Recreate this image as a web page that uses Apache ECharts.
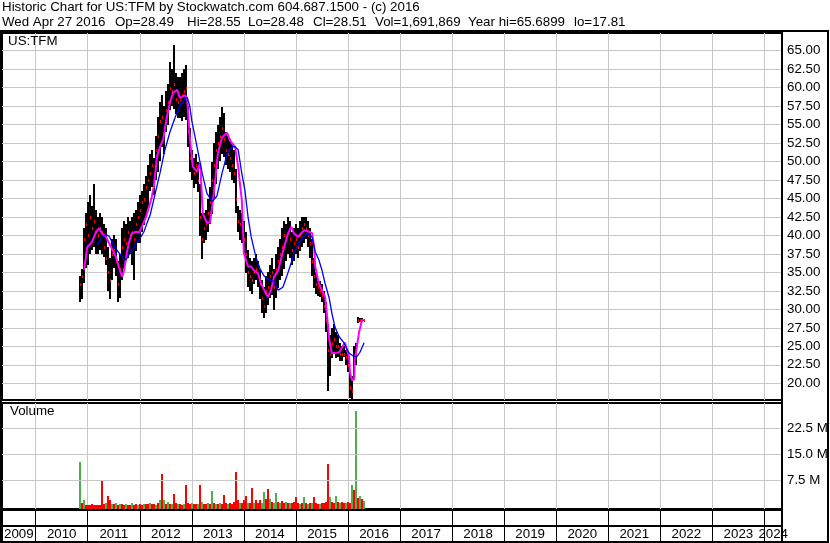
<!DOCTYPE html>
<html><head><meta charset="utf-8">
<script src="https://cdn.jsdelivr.net/npm/echarts@6/dist/echarts.min.js"></script>
<style>html,body{margin:0;padding:0;background:#fff}#c{width:830px;height:543px}</style>
</head><body><div id="c"></div>
<script>
// ---------- text ----------
const titleLine1 = "Historic Chart for US:TFM by Stockwatch.com 604.687.1500 - (c) 2016";
const titleLine2Fields = ["Wed Apr 27 2016", "Op=28.49", "Hi=28.55", "Lo=28.48", "Cl=28.51", "Vol=1,691,869", "Year hi=65.6899", "lo=17.81"];
const titleLine2X = [2, 115, 187, 248, 313, 375, 468, 574];
const priceLabel = "US:TFM";
const volumeLabel = "Volume";
const yearLabels = ["2009","2010","2011","2012","2013","2014","2015","2016","2017","2018","2019","2020","2021","2022","2023","2024"];
const volTickValues = [7.5e6, 15e6, 22.5e6];
const volTickLabels = ["7.5 M", "15.0 M", "22.5 M"];

// ---------- price bars (every two weeks, from Nov 2010) ----------
const startYear = 2010.85;
const stepYears = 1 / 26;
const priceLow = [31.0,31.5,33.5,35.5,36.0,37.5,38.0,38.5,37.5,37.5,
 38.0,37.5,37.0,36.0,32.5,31.5,34.0,35.5,34.5,31.0,
 31.5,34.0,35.5,36.5,37.0,37.5,36.0,34.0,38.0,39.0,
 39.0,40.5,41.5,42.5,43.5,46.0,46.5,45.5,47.5,48.5,
 50.0,52.0,51.0,54.0,55.0,57.0,57.5,57.0,56.5,56.0,
 56.0,55.5,56.0,55.5,52.0,48.5,47.5,46.5,47.0,46.0,
 40.0,36.8,39.0,39.5,40.5,41.5,43.0,45.0,47.0,49.0,
 50.0,51.0,50.5,49.5,49.0,48.5,47.5,47.0,43.0,40.5,
 39.5,39.0,37.5,35.0,33.0,32.5,32.0,33.5,34.0,33.0,
 31.5,29.5,28.8,29.5,30.5,31.5,32.0,30.0,31.5,33.0,
 34.0,34.5,35.5,36.5,37.5,37.0,36.0,36.5,37.5,37.0,
 38.0,38.5,39.0,39.5,38.5,37.0,34.5,33.0,32.0,31.8,
 31.7,31.0,29.5,27.0,19.0,21.0,23.5,24.0,23.5,23.5,
 23.0,23.0,23.5,22.5,21.5,18.0,17.8,20.5,22.5,28.2,
 28.3,28.4,28.45];
const priceHigh = [34.5,35.5,41.0,43.0,44.5,45.5,44.0,47.0,43.5,42.5,
 43.0,42.5,41.5,41.0,38.5,37.0,39.5,40.0,39.5,36.5,
 37.5,41.0,42.0,41.5,42.5,42.0,42.5,43.0,43.5,44.5,
 45.5,46.0,47.0,48.0,49.5,51.0,51.5,50.5,53.5,56.0,
 58.0,59.0,57.5,59.5,60.5,63.5,62.5,65.7,62.0,61.5,
 61.5,62.0,62.5,63.0,57.5,54.5,51.5,50.5,51.0,50.0,
 47.0,43.0,43.0,43.5,45.0,46.5,50.0,52.5,54.0,55.0,
 56.0,57.4,56.5,54.0,53.5,53.0,52.5,51.5,49.0,44.0,
 43.5,43.0,42.0,40.5,38.0,37.0,36.5,37.0,37.5,36.5,
 35.5,34.0,33.0,34.5,35.0,36.0,37.0,35.5,37.5,38.5,
 39.5,41.0,42.0,41.5,42.5,42.0,40.5,41.0,41.5,41.0,
 42.0,42.5,42.5,42.5,42.0,41.0,39.5,37.0,35.0,34.0,
 33.8,33.5,32.5,31.0,28.0,26.5,27.5,28.0,27.0,26.5,
 25.5,25.0,25.0,24.5,24.0,21.5,21.0,25.0,25.5,29.0,
 28.9,28.8,28.6];
const priceClose = [33.5,34.5,39.5,41.5,40.0,42.5,41.0,42.0,40.5,40.0,
 41.0,40.5,38.5,37.0,35.0,34.0,37.5,38.0,36.5,33.5,
 35.5,38.5,39.5,39.0,40.5,40.0,40.5,39.5,41.5,42.5,
 43.5,44.5,45.0,46.5,47.5,48.5,49.5,48.0,51.5,53.5,
 55.5,56.0,54.5,57.0,58.0,60.0,59.5,60.5,58.5,58.0,
 58.5,59.0,59.5,60.0,54.0,50.5,49.5,48.5,49.5,47.5,
 42.5,39.5,41.0,41.5,43.0,44.5,47.5,49.5,51.5,52.5,
 53.5,54.5,53.0,51.5,51.0,50.5,49.5,48.5,45.0,42.0,
 41.5,40.5,39.5,37.5,35.0,34.5,34.0,35.0,35.5,34.5,
 33.5,31.5,30.5,32.5,33.0,34.5,35.0,33.0,35.5,36.5,
 37.5,38.5,40.0,39.5,40.5,39.5,38.0,39.0,39.5,38.5,
 40.0,41.0,41.5,41.0,40.0,39.0,36.5,34.5,33.5,33.0,
 32.5,32.0,30.5,28.5,24.5,24.0,25.5,26.0,25.0,25.0,
 24.0,24.0,24.0,23.5,22.5,19.5,19.0,23.5,24.0,28.5,
 28.5,28.5,28.51];
// volume in millions, and direction (g = up, r = down)
const volumeM = [12.8,0.8,1.7,0.4,0.3,0.4,0.5,0.3,0.4,0.3,
 0.4,7.2,0.5,0.8,2.8,1.7,0.6,0.5,0.7,0.4,
 0.6,0.5,0.4,0.5,0.4,0.3,0.9,0.4,0.5,0.4,
 0.5,0.4,0.6,0.5,0.6,0.8,0.5,0.6,0.4,0.7,
 1.7,9.2,1.6,0.6,1.1,0.5,0.6,3.4,0.8,0.6,
 0.5,0.4,0.5,6.0,0.7,0.5,0.8,0.6,0.5,0.6,
 6.0,1.2,0.6,0.5,0.7,0.6,4.3,0.8,0.6,0.5,
 0.7,0.6,3.1,0.8,0.6,0.7,0.5,1.2,9.9,1.7,
 0.8,0.7,1.7,2.8,0.9,0.8,5.3,0.9,1.6,0.8,
 1.7,0.9,4.1,2.0,4.9,2.0,1.0,0.9,3.8,1.0,
 0.8,1.5,0.8,1.0,0.9,0.7,0.8,1.0,2.6,0.8,
 0.6,0.7,2.5,0.8,0.6,0.9,0.7,2.7,0.8,0.6,
 0.5,0.7,0.8,1.0,12.1,2.5,1.2,0.9,2.8,1.0,
 0.8,1.2,0.7,0.9,1.1,0.8,6.0,4.6,27.4,2.4,
 2.9,2.0,1.5];
const volumeDir = "grgrrrrrrr" + "rrrgrrgrgr" + "grrgrrgrrg" + "rrgrrgrrgr" + "grgrgrgrrg" +
 "rrgrrrgrrg" + "rgrrgrgrgr" + "grrrgrrrrr" + "grrrgrrgrr" + "rggrrgrggr" +
 "grrgrgrrrr" + "grgrgrgrrr" + "grrrrgrrgr" + "grrgrrgrgr" + "grg";

// ---------- moving averages ----------
const maFastYears = [2010.93,2010.99,2011.08,2011.16,2011.22,2011.27,2011.35,2011.45,2011.54,2011.60,2011.66,2011.70,2011.75,2011.79,2011.85,2011.93,2011.99,2012.04,2012.12,2012.18,2012.23,2012.27,2012.33,2012.39,2012.45,2012.52,2012.58,2012.64,2012.72,2012.77,2012.87,2012.91,2012.96,2013.00,2013.02,2013.10,2013.16,2013.21,2013.29,2013.35,2013.39,2013.45,2013.50,2013.58,2013.68,2013.73,2013.83,2013.89,2013.93,2013.96,2013.98,2014.00,2014.08,2014.14,2014.19,2014.27,2014.33,2014.39,2014.46,2014.52,2014.58,2014.66,2014.71,2014.77,2014.85,2014.91,2014.96,2015.04,2015.10,2015.16,2015.25,2015.31,2015.35,2015.37,2015.44,2015.50,2015.56,2015.60,2015.64,2015.69,2015.75,2015.83,2015.89,2015.94,2016.02,2016.04,2016.08,2016.12,2016.13,2016.17,2016.21,2016.27,2016.30];
const maFastValues = [35.3,38.4,39.1,40.5,41.0,40.3,39.8,38.4,37.1,35.7,34.4,35.3,37.6,39.0,40.3,40.5,40.4,41.2,42.5,43.9,45.2,46.6,50.6,52.0,53.0,56.0,58.0,59.3,59.7,58.6,59.0,58.5,53.3,50.6,49.3,48.6,49.8,43.0,41.7,41.8,43.9,47.5,51.1,53.3,53.9,52.9,52.0,49.3,46.6,44.8,41.5,37.6,35.8,35.8,35.3,34.9,33.5,32.6,31.7,32.6,34.4,35.3,36.7,38.4,40.3,41.2,40.3,39.8,40.3,40.7,40.5,40.3,38.4,35.8,33.5,32.6,31.7,29.0,25.9,24.1,24.1,24.2,24.9,25.5,23.6,21.4,20.4,20.6,23.2,24.9,26.8,28.6,28.5];
const maSlowYears = [2011.18,2011.27,2011.35,2011.41,2011.47,2011.56,2011.64,2011.70,2011.75,2011.83,2011.89,2011.95,2012.02,2012.08,2012.14,2012.20,2012.29,2012.39,2012.48,2012.58,2012.68,2012.77,2012.87,2012.91,2012.96,2013.00,2013.10,2013.20,2013.29,2013.39,2013.48,2013.58,2013.68,2013.77,2013.83,2013.89,2013.96,2014.02,2014.08,2014.14,2014.23,2014.31,2014.39,2014.48,2014.58,2014.66,2014.75,2014.81,2014.91,2014.96,2015.06,2015.15,2015.21,2015.31,2015.37,2015.44,2015.50,2015.56,2015.64,2015.69,2015.75,2015.83,2015.92,2016.02,2016.12,2016.17,2016.23,2016.31];
const maSlowValues = [38.7,39.7,40.1,39.9,39.1,38.0,37.3,36.7,36.9,37.8,38.4,39.1,39.8,40.5,41.7,42.8,45.5,48.5,51.5,54.0,56.0,57.5,58.5,58.7,57.5,55.5,52.0,48.4,45.7,44.6,45.3,48.4,51.1,52.0,52.0,51.6,48.4,46.1,42.5,39.8,37.1,35.5,34.5,34.0,33.8,32.6,33.0,34.2,36.3,37.6,39.0,39.8,40.3,39.8,37.8,36.7,35.3,33.5,31.5,29.5,27.6,26.3,25.5,24.1,23.6,23.6,24.2,25.5];

// ---------- chart ----------
const FONT = '"Liberation Sans", Arial, sans-serif';
const FS = 13.33;
const GRID_GRAY = '#c8c8c8';
const GREEN = '#4cb04c';
const RED = '#ff0000';
const X_MIN = 2009.353, X_MAX = 2024.338;

const barRows = priceLow.map((lo, i) => [startYear + i * stepYears, lo, priceHigh[i], priceClose[i]]);
const closeRows = priceClose.map((c, i) => [startYear + i * stepYears, c]);
const volRows = volumeM.map((v, i) => [startYear + i * stepYears, v * 1e6, volumeDir[i] === 'g' ? 1 : 0]);
const fastRows = maFastYears.map((y, i) => [y, maFastValues[i]]);
const slowRows = maSlowYears.map((y, i) => [y, maSlowValues[i]]);

const chart = echarts.init(document.getElementById('c'), null, {renderer: 'canvas', width: 830, height: 543});

function xAxisFor(g) {
  return {
    type: 'value', gridIndex: g, min: X_MIN, max: X_MAX, minInterval: 1, maxInterval: 1, splitNumber: 15,
    axisLine: {show: false}, axisTick: {show: false}, axisLabel: {show: false},
    splitLine: {show: true, showMinLine: false, showMaxLine: false,
      lineStyle: {color: g === 2 ? '#000' : GRID_GRAY, width: 1}}
  };
}
const gridBase = {left: 2, right: 48, show: true, borderColor: '#000', borderWidth: 2, backgroundColor: '#fff', containLabel: false, outerBoundsMode: 'none'};
const textFont = FS + 'px ' + FONT;

const graphics = [
  {type: 'text', left: 2, top: 1, style: {text: titleLine1, font: textFont, fill: '#000'}},
  {type: 'text', left: 8, top: 35, z: 20, style: {text: priceLabel, font: textFont, fill: '#000'}},
  {type: 'text', left: 10, top: 405, z: 20, style: {text: volumeLabel, font: textFont, fill: '#000'}},
  {type: 'rect', z: 30, shape: {x: 1, y: 31, width: 827, height: 511}, style: {fill: 'none', stroke: '#000', lineWidth: 2}},
  {type: 'line', z: 30, shape: {x1: 782, y1: 31, x2: 782, y2: 542}, style: {stroke: '#000', lineWidth: 2}}
];
titleLine2Fields.forEach((t, i) => graphics.push({type: 'text', left: titleLine2X[i], top: 16, style: {text: t, font: textFont, fill: '#000'}}));

chart.setOption({
  animation: false,
  grid: [
    Object.assign({}, gridBase, {top: 33, height: 367}),
    Object.assign({}, gridBase, {top: 403, height: 106}),
    Object.assign({}, gridBase, {top: 510, height: 32})
  ],
  xAxis: [xAxisFor(0), xAxisFor(1), xAxisFor(2)],
  yAxis: [
    {type: 'value', gridIndex: 0, position: 'right', min: 17.74, max: 67.39, minInterval: 2.5, maxInterval: 2.5, splitNumber: 20,
      axisLine: {show: false}, axisTick: {show: false},
      splitLine: {show: true, showMinLine: false, showMaxLine: false, lineStyle: {color: GRID_GRAY, width: 1}},
      axisLabel: {color: '#000', fontSize: FS, fontFamily: FONT, margin: 5, showMinLabel: false, showMaxLabel: false,
        formatter: v => (Math.abs(v / 2.5 - Math.round(v / 2.5)) < 1e-6 ? v.toFixed(2) : '')}},
    {type: 'value', gridIndex: 1, position: 'right', min: -0.9e6, max: 29.8e6,
      axisLine: {show: false}, axisTick: {show: false}, axisLabel: {show: false}, splitLine: {show: false}},
    {type: 'value', gridIndex: 2, min: 0, max: 2, minInterval: 1, maxInterval: 1,
      axisLine: {show: false}, axisTick: {show: false}, axisLabel: {show: false},
      splitLine: {show: true, showMinLine: false, showMaxLine: false, lineStyle: {color: '#000', width: 2}}}
  ],
  graphic: graphics,
  series: [
    {
      type: 'custom', xAxisIndex: 0, yAxisIndex: 0, data: barRows, encode: {x: 0, y: [1, 2]}, clip: true, z: 3,
      renderItem: (p, api) => {
        const x = api.value(0);
        const top = api.coord([x, api.value(2)]);
        const bot = api.coord([x, api.value(1)]);
        const px = Math.round(top[0]);
        return {type: 'rect', shape: {x: px - 1, y: Math.round(top[1]), width: 2, height: Math.max(1, Math.round(bot[1] - top[1]))}, style: {fill: '#000'}};
      }
    },
    {
      type: 'custom', xAxisIndex: 0, yAxisIndex: 0, data: closeRows, encode: {x: 0, y: 1}, clip: true, z: 4,
      renderItem: (p, api) => {
        const c = api.coord([api.value(0), api.value(1)]);
        const px = Math.round(c[0]);
        return {type: 'rect', shape: {x: px, y: Math.round(c[1]) - 1, width: 1, height: 3}, style: {fill: RED}};
      }
    },
    {type: 'line', xAxisIndex: 0, yAxisIndex: 0, data: fastRows, showSymbol: false, z: 5,
      lineStyle: {color: '#ff00ff', width: 2}},
    {type: 'line', xAxisIndex: 0, yAxisIndex: 0, data: slowRows, showSymbol: false, z: 6,
      lineStyle: {color: '#0000ff', width: 1.3}},
    {type: 'line', xAxisIndex: 1, yAxisIndex: 1, data: [], z: 1,
      markLine: {silent: true, symbol: ['none', 'none'], animation: false,
        lineStyle: {color: GRID_GRAY, type: 'solid', width: 1},
        label: {show: true, position: 'end', color: '#000', fontSize: FS, fontFamily: FONT, distance: 5},
        data: volTickValues.map((v, i) => ({yAxis: v, label: {formatter: volTickLabels[i]}}))}},
    {
      type: 'custom', xAxisIndex: 1, yAxisIndex: 1, data: volRows, encode: {x: 0, y: 1}, clip: true, z: 3,
      renderItem: (p, api) => {
        const x = api.value(0);
        const pt = api.coord([x, api.value(1)]);
        const cs = p.coordSys;
        const bottom = cs.y + cs.height;
        const px = Math.round(pt[0]);
        const yTop = Math.round(pt[1]);
        return {type: 'rect', shape: {x: px - 1, y: yTop, width: 2, height: bottom - yTop}, style: {fill: api.value(2) ? GREEN : RED}};
      }
    },
    {
      type: 'custom', xAxisIndex: 2, yAxisIndex: 2, data: yearLabels.map(y => [Number(y)]), encode: {x: 0}, clip: false, z: 40,
      renderItem: (p, api) => {
        const cs = p.coordSys;
        const yr = api.value(0);
        const l = Math.max(api.coord([yr, 0.5])[0], cs.x);
        const r = Math.min(api.coord([yr + 1, 0.5])[0], cs.x + cs.width);
        const yy = api.coord([yr, 0.5])[1];
        return {type: 'text', x: (l + r) / 2, y: yy, style: {text: String(yr), align: 'center', verticalAlign: 'middle', textAlign: 'center', textVerticalAlign: 'middle', font: textFont, fill: '#000'}};
      }
    }
  ]
});
</script></body></html>
